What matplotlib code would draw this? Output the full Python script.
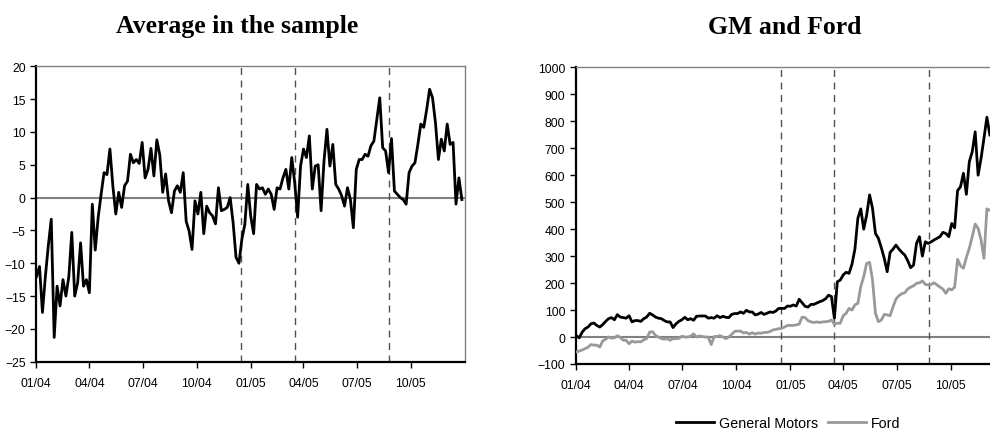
import matplotlib
matplotlib.use('Agg')
import matplotlib.pyplot as plt
import matplotlib.dates as mdates
from matplotlib.lines import Line2D
import pandas as pd

plt.rcParams['font.family'] = ['Liberation Sans', 'DejaVu Sans']

# ---- data (one value every 5 days from 2 Jan 2004) ----
avg_values = [
    -12, -10.5, -17.5, -12, -7.3, -3.3, -21.3, -13.5, -16.5, -12.5,
    -15, -12, -5.3, -15, -13, -6.9, -13.5, -12.5, -14.5, -1,
    -8, -3, 0.5, 3.8, 3.5, 7.4, 1.8, -2.5, 0.8, -1.5,
    1.8, 2.5, 6.6, 5.3, 5.8, 5.2, 8.4, 3.0, 4.3, 7.5,
    3.3, 8.8, 6.5, 0.8, 3.6, -0.5, -2.3, 1.0, 1.8, 0.8,
    3.8, -3.6, -5.1, -7.9, -0.5, -2.5, 0.8, -5.5, -1.3, -2.3,
    -2.8, -4.0, 1.5, -2.0, -1.8, -1.5, 0.0, -3.8, -9.1, -10.0,
    -6.3, -4.1, 2.0, -2.8, -5.5, 2.0, 1.3, 1.5, 0.5, 1.3,
    0.5, -1.8, 1.5, 1.3, 3.0, 4.3, 1.3, 6.1, 2.3, -3.0,
    4.8, 7.4, 6.1, 9.4, 1.3, 4.8, 5.0, -2.0, 5.6, 10.4,
    4.8, 8.1, 2.0, 1.3, 0.3, -1.3, 1.5, -0.3, -4.6, 4.3,
    5.8, 5.8, 6.6, 6.3, 7.9, 8.6, 11.9, 15.2, 7.6, 7.1,
    3.8, 9.0, 1.0, 0.5, 0.0, -0.3, -1.0, 3.8, 4.8, 5.3,
    8.1, 11.2, 10.7, 13.4, 16.5, 15.2, 11.4, 5.8, 8.9, 7.1,
    11.2, 8.1, 8.4, -1.0, 3.0, -0.3,
]

gm_values = [
    5, -3, 18, 31, 37, 49, 52, 43, 37, 46,
    58, 68, 72, 64, 83, 74, 72, 70, 79, 56,
    61, 61, 58, 68, 74, 88, 82, 74, 70, 68,
    61, 56, 56, 35, 49, 58, 64, 73, 64, 68,
    62, 77, 78, 78, 78, 70, 72, 70, 79, 72,
    77, 73, 72, 84, 87, 87, 93, 88, 99, 93,
    93, 82, 85, 91, 84, 88, 93, 91, 96, 106,
    106, 106, 115, 114, 119, 115, 140, 127, 114, 111,
    121, 121, 126, 131, 135, 142, 155, 150, 69, 205,
    211, 230, 240, 236, 270, 326, 440, 475, 400, 452,
    527, 477, 384, 366, 331, 292, 242, 314, 326, 341,
    326, 314, 304, 283, 257, 267, 347, 372, 300, 353,
    347, 353, 360, 366, 372, 388, 384, 372, 421, 405,
    543, 557, 607, 529, 650, 687, 761, 600, 662, 737,
    815, 749,
]

ford_values = [
    -55, -52, -48, -43, -38, -28, -30, -30, -37, -15,
    -8, 0, -4, -3, 5, -1, -12, -12, -25, -15,
    -19, -17, -18, -10, -6, 18, 20, 6, 0, -6,
    -8, -6, -12, -6, -6, -5, 3, 0, 0, 3,
    12, 0, 4, 2, 0, 0, -28, 2, 2, 5,
    0, -6, 0, 10, 21, 22, 22, 15, 17, 11,
    16, 11, 15, 14, 17, 17, 20, 26, 28, 31,
    32, 37, 43, 43, 43, 45, 48, 74, 72, 61,
    56, 54, 56, 54, 56, 57, 58, 63, 48, 51,
    51, 79, 88, 106, 100, 119, 125, 187, 224, 273,
    277, 211, 88, 57, 63, 84, 82, 79, 112, 141,
    153, 161, 164, 178, 185, 190, 199, 201, 208, 195,
    193, 195, 201, 193, 185, 178, 162, 179, 175, 185,
    288, 264, 255, 295, 329, 372, 419, 403, 360, 292,
    475, 470,
]

dates_avg = pd.date_range('2004-01-02', periods=len(avg_values), freq='5D')
dates_car = pd.date_range('2004-01-02', periods=len(gm_values), freq='5D')
event_dates = pd.to_datetime(['2004-12-16', '2005-03-17', '2005-08-25'])
quarter_ticks = pd.date_range('2004-01-01', '2005-10-01', freq='QS')
left_yticks = list(range(-25, 21, 5))
right_yticks = list(range(-100, 1001, 100))
titles = ['Average in the sample', 'GM and Ford']
legend_labels = ['General Motors', 'Ford']

W, H = 990, 431
fig = plt.figure(figsize=(W / 100, H / 100), dpi=100)
ax1 = fig.add_axes([36 / W, 1 - 362.7 / H, 428.8 / W, 295.4 / H])
ax2 = fig.add_axes([575.7 / W, 1 - 365 / H, 428.8 / W, 296.7 / H])

xlo, xhi = pd.Timestamp('2004-01-01'), pd.Timestamp('2006-01-01')


def style(ax, yticks):
    ax.set_xlim(xlo, xhi)
    ax.set_ylim(yticks[0], yticks[-1])
    ax.set_yticks(yticks)
    ax.set_xticks(quarter_ticks)
    ax.xaxis.set_major_formatter(mdates.DateFormatter('%m/%y'))
    for s in ('left', 'bottom'):
        ax.spines[s].set_color('black')
        ax.spines[s].set_linewidth(1.6)
    for s in ('top', 'right'):
        ax.spines[s].set_color('#808080')
        ax.spines[s].set_linewidth(1.0)
    ax.tick_params(axis='both', direction='out', length=4, width=1,
                   labelsize=8.7, colors='black')
    ax.tick_params(axis='x', pad=7)
    ax.axhline(0, color='#808080', lw=1.5, zorder=1)
    for d in event_dates:
        ax.axvline(d, color='#505050', lw=1.0, dashes=(5, 4), zorder=1)


style(ax1, left_yticks)
ax1.plot(dates_avg, avg_values, color='black', lw=2.0, zorder=3)

style(ax2, right_yticks)
ax2.plot(dates_car, ford_values, color='#999999', lw=2.0, zorder=3)
ax2.plot(dates_car, gm_values, color='black', lw=2.0, zorder=4)

fig.text(237 / W, 1 - 27 / H, titles[0], ha='center', va='center',
         fontsize=18.5, fontweight='bold', family=['Liberation Serif', 'DejaVu Serif'])
fig.text(785 / W, 1 - 27 / H, titles[1], ha='center', va='center',
         fontsize=18.5, fontweight='bold', family=['Liberation Serif', 'DejaVu Serif'])

handles = [Line2D([], [], color='black', lw=2.0),
           Line2D([], [], color='#999999', lw=2.0)]
fig.legend(handles, legend_labels, loc='center', bbox_to_anchor=(788 / W, 1 - 424 / H),
           ncol=2, frameon=False, fontsize=10.3, handlelength=2.7,
           handletextpad=0.3, columnspacing=0.7, borderaxespad=0, borderpad=0)

fig.savefig('out.png', dpi=100)
